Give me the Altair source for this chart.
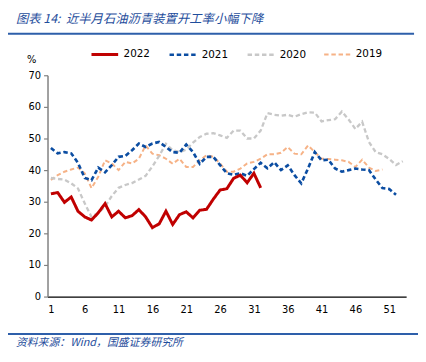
import altair as alt
import pandas as pd

# ---------------- data ----------------
weeks_2022 = list(range(1, 33))
vals_2022 = [32.5, 32.9, 29.8, 31.5, 27.0, 25.2, 24.2, 26.5, 29.4, 25.2,
             27.0, 24.9, 25.6, 27.5, 25.2, 21.8, 23.0, 27.0, 22.8, 25.9,
             26.8, 24.9, 27.3, 27.6, 30.8, 33.7, 34.1, 37.4, 38.4, 36.0,
             39.0, 34.4]

weeks_2021 = list(range(1, 53))
vals_2021 = [47.0, 45.3, 45.7, 45.3, 42.3, 37.5, 36.8, 40.8, 39.3, 41.6,
             44.2, 44.5, 46.3, 48.4, 47.3, 48.4, 48.9, 47.3, 45.7, 45.5,
             48.1, 45.7, 42.0, 44.2, 44.2, 41.6, 39.0, 38.5, 39.0, 38.2,
             40.3, 42.3, 40.6, 42.5, 40.0, 41.5, 38.4, 35.8, 40.5, 45.7,
             43.1, 43.3, 40.5, 39.5, 40.0, 40.5, 40.2, 40.0, 37.0, 34.3,
             34.0, 32.2]

weeks_2020 = list(range(1, 54))
vals_2020 = [37.5, 37.2, 37.0, 35.8, 34.2, 29.5, 25.2, 26.5, 28.5, 31.8,
             34.4, 35.3, 35.9, 37.0, 38.2, 41.2, 44.5, 48.3, 46.3, 45.7,
             46.5, 48.7, 50.5, 51.5, 51.7, 51.0, 50.2, 52.5, 52.5, 50.0,
             50.0, 52.5, 58.0, 57.5, 57.2, 57.5, 56.9, 57.7, 58.3, 58.2,
             55.4, 55.8, 56.1, 58.5, 56.0, 53.0, 55.3, 48.9, 45.7, 45.0,
             43.5, 41.6, 42.8]

weeks_2019 = list(range(1, 51))
vals_2019 = [36.9, 38.4, 39.5, 40.2, 40.8, 39.0, 34.3, 37.9, 43.1, 42.1,
             40.0, 42.6, 42.1, 43.6, 47.8, 45.2, 44.7, 43.6, 42.0, 43.6,
             41.0, 41.0, 43.1, 44.7, 44.2, 42.1, 39.5, 39.5, 40.5, 42.1,
             42.6, 43.6, 45.0, 45.0, 45.5, 47.3, 45.2, 45.0, 47.8, 45.7,
             43.6, 43.5, 43.3, 43.1, 42.6, 41.0, 43.3, 40.8, 39.7, 40.2]

years = ["2022", "2021", "2020", "2019"]
colors = ["#C00000", "#0B4DA2", "#C8C8C8", "#F6B286"]
dashes = [[1, 0], [4.5, 2.8], [4.5, 2.8], [4.5, 2.8]]
widths = [3, 2, 2, 2]

x_ticks = [1, 6, 11, 16, 21, 26, 31, 36, 41, 46, 51]
y_ticks = [0, 10, 20, 30, 40, 50, 60, 70]

title_text = "图表 14:\u00a0\u00a0近半月石油沥青装置开工率小幅下降"
source_text = "资料来源：Wind，国盛证券研究所"
unit_text = "%"

# long table, drawn in order 2019 -> 2022 so 2022 is on top
rows = []
for yr, wk, vl in [("2019", weeks_2019, vals_2019), ("2020", weeks_2020, vals_2020),
                   ("2021", weeks_2021, vals_2021), ("2022", weeks_2022, vals_2022)]:
    for w, v in zip(wk, vl):
        rows.append({"year": yr, "week": w, "value": v})
df = pd.DataFrame(rows)

FONT = "DejaVu Sans"
BLUE_TXT = "#1F4E9C"
W, H = 363, 224

legend = alt.Legend(orient="none", legendX=43, legendY=-36, direction="horizontal",
                    title=None, symbolType="stroke", symbolSize=729,
                    labelFont=FONT, labelFontSize=10.5, labelColor="#000",
                    labelOffset=4, columnPadding=14, padding=0)

lines = alt.Chart(df).mark_line(strokeCap="butt", strokeJoin="miter").encode(
    x=alt.X("week:Q", scale=alt.Scale(domain=[0.5, 53.5], nice=False, zero=False),
            axis=alt.Axis(values=x_ticks, title=None, grid=False, ticks=False,
                          domainColor="#000", domainWidth=1.2, labelPadding=8,
                          labelFont=FONT, labelFontSize=10, labelColor="#000",
                          labelFlush=False)),
    y=alt.Y("value:Q", scale=alt.Scale(domain=[0, 70], nice=False),
            axis=alt.Axis(values=y_ticks, title=None, grid=False, ticks=True,
                          tickSize=4, tickColor="#808080", domainColor="#808080",
                          domainWidth=1.5, tickWidth=1.2, labelPadding=3,
                          labelFont=FONT, labelFontSize=10, labelColor="#000")),
    color=alt.Color("year:N", scale=alt.Scale(domain=years, range=colors), legend=legend),
    strokeDash=alt.StrokeDash("year:N", scale=alt.Scale(domain=years, range=dashes), legend=legend),
    strokeWidth=alt.StrokeWidth("year:N", scale=alt.Scale(domain=years, range=widths), legend=legend),
    order=alt.Order("week:Q"),
)

title = alt.Chart(pd.DataFrame({"t": [title_text]})).mark_text(
    align="left", baseline="middle", font="Noto Sans CJK SC",
    fontSize=12.5, fontStyle="italic", color=BLUE_TXT).encode(
    x=alt.value(-32), y=alt.value(-57), text="t:N")

src = alt.Chart(pd.DataFrame({"t": [source_text]})).mark_text(
    align="left", baseline="middle", font="Noto Sans CJK SC", fontSize=11,
    fontStyle="italic", color=BLUE_TXT).encode(
    x=alt.value(-32), y=alt.value(271), text="t:N")

unit = alt.Chart(pd.DataFrame({"t": [unit_text]})).mark_text(
    align="center", baseline="middle", font=FONT, fontSize=10, color="#000").encode(
    x=alt.value(-16), y=alt.value(-15), text="t:N")

top_rule = alt.Chart(pd.DataFrame({"a": [0]})).mark_rule(color="#2E5FAA", strokeWidth=2).encode(
    x=alt.value(-40), x2=alt.value(371), y=alt.value(-42))
bot_rule = alt.Chart(pd.DataFrame({"a": [0]})).mark_rule(color="#2E5FAA", strokeWidth=2).encode(
    x=alt.value(-40), x2=alt.value(375), y=alt.value(262))

chart = alt.layer(top_rule, bot_rule, title, src, unit, lines).properties(
    width=W, height=H,
    autosize=alt.AutoSizeParams(type="none"),
    padding={"left": 40, "top": 66, "right": 12, "bottom": 52},
).configure_view(strokeWidth=0)

chart.save("out.html", embed_options={"renderer": "svg", "actions": False})
